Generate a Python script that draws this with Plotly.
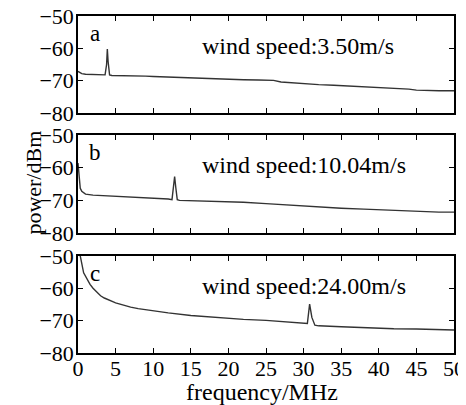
import plotly.graph_objects as go
from plotly.subplots import make_subplots

# ---- data ----
freq_a = [0, 0.5, 1, 2, 3, 3.6, 3.8, 3.9, 4.0, 4.2, 4.5, 5, 6, 7, 8, 9, 10, 12, 14, 16, 18, 20,
          22, 24, 26, 27, 28, 30, 32, 34, 36, 38, 40, 42, 44, 45, 46, 48, 50]
power_a = [-67.1, -67.8, -68.0, -68.1, -68.2, -68.2, -65.0, -60.2, -64.0, -68.2, -68.4, -68.4,
           -68.5, -68.5, -68.6, -68.6, -68.7, -68.9, -69.1, -69.2, -69.4, -69.5, -69.7, -69.8,
           -69.9, -70.4, -70.6, -71.0, -71.2, -71.4, -71.6, -71.8, -72.1, -72.3, -72.6, -72.9,
           -73.0, -73.1, -73.1]

freq_b = [0, 0.1, 0.2, 0.3, 0.5, 0.75, 1, 2, 3, 5, 7, 10, 12, 12.5, 12.7, 12.85, 13.0, 13.2,
          13.5, 15, 17, 20, 22, 25, 27, 30, 32, 35, 38, 40, 42, 45, 48, 50]
power_b = [-58.6, -62.0, -64.5, -66.3, -67.2, -67.8, -68.1, -68.4, -68.5, -68.8, -69.0, -69.3,
           -69.6, -69.8, -66.5, -62.7, -66.0, -69.8, -70.0, -70.1, -70.2, -70.3, -70.6, -71.0,
           -71.3, -71.7, -72.0, -72.4, -72.7, -72.9, -73.1, -73.4, -73.6, -73.6]

freq_c = [0.05, 0.3, 0.75, 1.2, 1.6, 2, 2.5, 3, 3.5, 4, 4.7, 5, 6, 7, 8, 10, 12, 15, 18, 20, 22,
          25, 28, 30, 30.5, 30.8, 31.1, 31.5, 32, 35, 38, 40, 42, 45, 48, 50]
power_c = [-45.0, -50.0, -55.2, -57.3, -58.8, -60.0, -61.3, -62.3, -63.0, -63.6, -64.2, -64.5,
           -65.2, -65.8, -66.3, -67.0, -67.6, -68.4, -69.0, -69.3, -69.6, -69.9, -70.4, -70.8,
           -70.9, -64.9, -69.0, -71.4, -71.6, -71.9, -72.2, -72.4, -72.5, -72.6, -72.8, -72.9]

panel_letters = ["a", "b", "c"]
speed_labels = ["wind speed:3.50m/s", "wind speed:10.04m/s", "wind speed:24.00m/s"]
x_ticks = [0, 5, 10, 15, 20, 25, 30, 35, 40, 45, 50]
y_ticks = [-50, -60, -70, -80]

series = [(freq_a, power_a), (freq_b, power_b), (freq_c, power_c)]

FONT = "Liberation Serif"
fig = make_subplots(rows=3, cols=1)

domains = [[0.712, 1.0], [0.356, 0.647], [0.0, 0.288]]
for i, (fx, py) in enumerate(series):
    fig.add_trace(go.Scatter(x=fx, y=py, mode="lines",
                             line=dict(color="#333333", width=1.4),
                             showlegend=False), row=i + 1, col=1)

for i in range(3):
    xa = "xaxis" if i == 0 else f"xaxis{i+1}"
    ya = "yaxis" if i == 0 else f"yaxis{i+1}"
    fig.layout[xa].update(range=[0, 50], tickvals=x_ticks, ticks="inside", ticklen=5,
                          tickcolor="black", tickwidth=1, mirror="ticks", showline=True,
                          linecolor="black", linewidth=1.5, showgrid=False, zeroline=False,
                          showticklabels=(i == 2), automargin=False,
                          ticklabelstandoff=-5, ticklabeloverflow="allow",
                          tickfont=dict(family=FONT, size=22, color="black"))
    fig.layout[ya].update(range=[-80, -50], tickvals=y_ticks, ticks="inside", ticklen=5,
                          tickcolor="black", tickwidth=1, mirror="ticks", showline=True,
                          linecolor="black", linewidth=1.5, showgrid=False, zeroline=False,
                          domain=domains[i], automargin=False, ticklabelstandoff=-2,
                          ticklabeloverflow="allow",
                          tickfont=dict(family=FONT, size=22, color="black"))
    xref = "x" if i == 0 else f"x{i+1}"
    yref = "y" if i == 0 else f"y{i+1}"
    fig.add_annotation(x=2.3, y=-55.3, xref=xref, yref=yref, text=panel_letters[i],
                       showarrow=False, font=dict(family=FONT, size=23, color="black"))
    fig.add_annotation(x=16.2, y=-59.3, xref=xref, yref=yref, text=speed_labels[i],
                       xanchor="left", showarrow=False,
                       font=dict(family=FONT, size=24, color="black"))

fig.add_annotation(x=-0.157, y=0.507, xref="paper", yref="paper", text="power/dBm",
                   textangle=-90, showarrow=False,
                   font=dict(family=FONT, size=22, color="black"))
fig.add_annotation(x=0.489, y=-0.117, xref="paper", yref="paper", text="frequency/MHz",
                   showarrow=False, yanchor="middle",
                   font=dict(family=FONT, size=24, color="black"))

# page body adds an 8px offset; figure is sized so the plot lands where the reference has it
fig.update_layout(template="none", width=458, height=397,
                  margin=dict(l=70, r=12, t=8, b=52, autoexpand=False),
                  plot_bgcolor="white", paper_bgcolor="white")
fig.write_html("out.html")
